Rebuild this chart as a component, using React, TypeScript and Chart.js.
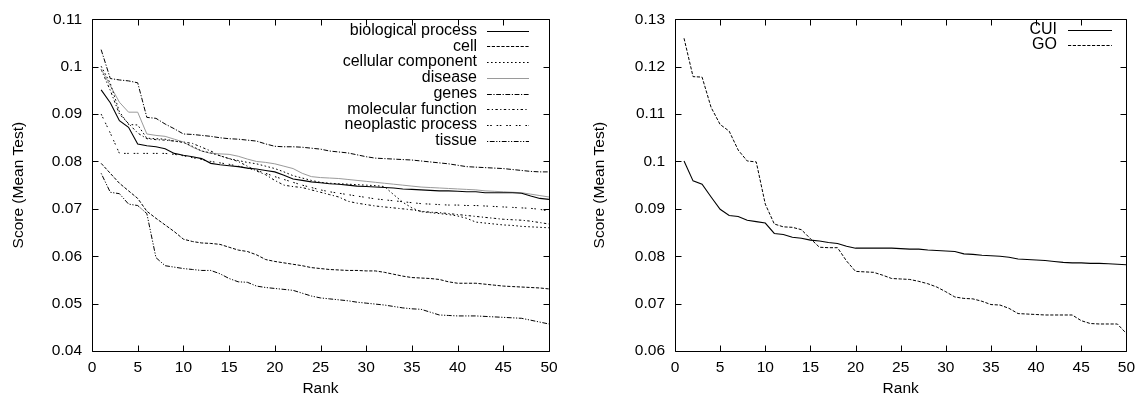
import React, { useEffect, useRef } from "react";
import { Chart, registerables } from "chart.js";

Chart.register(...registerables);

// ---------- data ----------
const RANKS = [1, 2, 3, 4, 5, 6, 7, 8, 9, 10, 11, 12, 13, 14, 15, 16, 17, 18, 19, 20, 21, 22, 23, 24, 25, 26, 27, 28, 29, 30, 31, 32, 33, 34, 35, 36, 37, 38, 39, 40, 41, 42, 43, 44, 45, 46, 47, 48, 49, 50];

const X_TICKS = [0, 5, 10, 15, 20, 25, 30, 35, 40, 45, 50];
const LEFT_Y_TICKS = [0.04, 0.05, 0.06, 0.07, 0.08, 0.09, 0.1, 0.11];
const RIGHT_Y_TICKS = [0.06, 0.07, 0.08, 0.09, 0.1, 0.11, 0.12, 0.13];

const LEFT_LABELS = ["biological process", "cell", "cellular component", "disease", "genes", "molecular function", "neoplastic process", "tissue"];
const RIGHT_LABELS = ["CUI", "GO"];

const biologicalProcess = [0.0951, 0.0924, 0.0886, 0.0872, 0.0837, 0.0833, 0.0831, 0.0827, 0.0817, 0.0813, 0.0810, 0.0806, 0.0796, 0.0793, 0.0791, 0.0789, 0.0786, 0.0784, 0.0781, 0.0778, 0.0771, 0.0763, 0.0760, 0.0757, 0.0755, 0.0753, 0.0752, 0.0750, 0.0748, 0.0747, 0.0746, 0.0745, 0.0744, 0.0742, 0.0741, 0.0740, 0.0739, 0.0738, 0.0738, 0.0737, 0.0736, 0.0736, 0.0734, 0.0734, 0.0734, 0.0734, 0.0733, 0.0727, 0.0722, 0.0720];
const cell = [0.0796, 0.0775, 0.0754, 0.0738, 0.0722, 0.0695, 0.0680, 0.0666, 0.0652, 0.0636, 0.0631, 0.0628, 0.0627, 0.0625, 0.0619, 0.0613, 0.0610, 0.0603, 0.0593, 0.0589, 0.0586, 0.0583, 0.0580, 0.0576, 0.0574, 0.0572, 0.0571, 0.0570, 0.0570, 0.0569, 0.0569, 0.0566, 0.0562, 0.0558, 0.0555, 0.0554, 0.0553, 0.0551, 0.0546, 0.0543, 0.0543, 0.0543, 0.0541, 0.0539, 0.0537, 0.0536, 0.0535, 0.0534, 0.0533, 0.0531];
const cellularComponent = [0.1001, 0.0965, 0.0905, 0.0878, 0.0877, 0.0849, 0.0848, 0.0847, 0.0843, 0.0840, 0.0832, 0.0822, 0.0818, 0.0812, 0.0806, 0.0802, 0.0798, 0.0795, 0.0790, 0.0785, 0.0778, 0.0770, 0.0765, 0.0760, 0.0756, 0.0754, 0.0753, 0.0752, 0.0751, 0.0750, 0.0749, 0.0747, 0.0730, 0.0714, 0.0702, 0.0694, 0.0692, 0.0690, 0.0688, 0.0685, 0.0680, 0.0672, 0.0670, 0.0668, 0.0666, 0.0665, 0.0663, 0.0662, 0.0661, 0.0660];
const disease = [0.0995, 0.0960, 0.0925, 0.0904, 0.0904, 0.0858, 0.0855, 0.0853, 0.0847, 0.0841, 0.0830, 0.0822, 0.0817, 0.0816, 0.0815, 0.0811, 0.0805, 0.0800, 0.0798, 0.0795, 0.0790, 0.0785, 0.0775, 0.0768, 0.0766, 0.0765, 0.0764, 0.0762, 0.0760, 0.0758, 0.0756, 0.0754, 0.0752, 0.0750, 0.0748, 0.0746, 0.0745, 0.0744, 0.0743, 0.0742, 0.0741, 0.0740, 0.0738, 0.0737, 0.0736, 0.0735, 0.0734, 0.0731, 0.0728, 0.0725];
const genes = [0.1036, 0.0975, 0.0972, 0.0970, 0.0966, 0.0893, 0.0891, 0.0879, 0.0869, 0.0858, 0.0857, 0.0855, 0.0853, 0.0850, 0.0848, 0.0847, 0.0845, 0.0843, 0.0837, 0.0832, 0.0831, 0.0831, 0.0830, 0.0828, 0.0826, 0.0822, 0.0820, 0.0818, 0.0814, 0.0810, 0.0807, 0.0806, 0.0805, 0.0804, 0.0803, 0.0801, 0.0799, 0.0797, 0.0795, 0.0792, 0.0789, 0.0788, 0.0787, 0.0786, 0.0785, 0.0783, 0.0781, 0.0779, 0.0778, 0.0778];
const molecularFunction = [0.0994, 0.0950, 0.0900, 0.0880, 0.0860, 0.0848, 0.0846, 0.0845, 0.0843, 0.0841, 0.0838, 0.0830, 0.0822, 0.0812, 0.0806, 0.0800, 0.0790, 0.0780, 0.0772, 0.0760, 0.0750, 0.0747, 0.0745, 0.0740, 0.0735, 0.0730, 0.0725, 0.0716, 0.0712, 0.0709, 0.0706, 0.0704, 0.0702, 0.0700, 0.0698, 0.0695, 0.0693, 0.0692, 0.0690, 0.0688, 0.0686, 0.0684, 0.0682, 0.0680, 0.0678, 0.0677, 0.0676, 0.0674, 0.0671, 0.0668];
const neoplasticProcess = [0.0900, 0.0860, 0.0817, 0.0817, 0.0817, 0.0817, 0.0817, 0.0817, 0.0815, 0.0812, 0.0808, 0.0804, 0.0800, 0.0797, 0.0794, 0.0790, 0.0786, 0.0781, 0.0775, 0.0768, 0.0762, 0.0756, 0.0750, 0.0745, 0.0740, 0.0736, 0.0733, 0.0730, 0.0727, 0.0724, 0.0721, 0.0719, 0.0717, 0.0715, 0.0713, 0.0711, 0.0710, 0.0709, 0.0708, 0.0708, 0.0707, 0.0707, 0.0706, 0.0705, 0.0704, 0.0703, 0.0702, 0.0701, 0.0699, 0.0695];
const tissue = [0.0775, 0.0735, 0.0732, 0.0710, 0.0707, 0.0690, 0.0597, 0.0580, 0.0577, 0.0574, 0.0572, 0.0570, 0.0570, 0.0563, 0.0553, 0.0546, 0.0545, 0.0537, 0.0534, 0.0532, 0.0530, 0.0528, 0.0522, 0.0516, 0.0512, 0.0510, 0.0508, 0.0506, 0.0503, 0.0501, 0.0499, 0.0497, 0.0494, 0.0491, 0.0489, 0.0488, 0.0482, 0.0476, 0.0475, 0.0474, 0.0474, 0.0474, 0.0473, 0.0472, 0.0471, 0.0470, 0.0469, 0.0465, 0.0461, 0.0457];

const cui = [0.1001, 0.0959, 0.0952, 0.0925, 0.0899, 0.0886, 0.0884, 0.0876, 0.0873, 0.0870, 0.0848, 0.0846, 0.0840, 0.0838, 0.0834, 0.0832, 0.0829, 0.0827, 0.0821, 0.0817, 0.0817, 0.0817, 0.0817, 0.0817, 0.0816, 0.0815, 0.0815, 0.0813, 0.0812, 0.0811, 0.0810, 0.0805, 0.0804, 0.0802, 0.0801, 0.0800, 0.0798, 0.0794, 0.0793, 0.0792, 0.0791, 0.0789, 0.0787, 0.0786, 0.0786, 0.0785, 0.0785, 0.0784, 0.0783, 0.0782];
const go = [0.1260, 0.1179, 0.1178, 0.1114, 0.1078, 0.1064, 0.1024, 0.1001, 0.0999, 0.0910, 0.0868, 0.0862, 0.0861, 0.0856, 0.0837, 0.0819, 0.0818, 0.0818, 0.0790, 0.0768, 0.0767, 0.0766, 0.0760, 0.0753, 0.0752, 0.0751, 0.0747, 0.0742, 0.0735, 0.0725, 0.0714, 0.0711, 0.0710, 0.0705, 0.0698, 0.0697, 0.0690, 0.0679, 0.0678, 0.0677, 0.0676, 0.0676, 0.0676, 0.0676, 0.0664, 0.0658, 0.0657, 0.0657, 0.0657, 0.0637];

// ---------- styles ----------
const FONT = '"Liberation Sans", Arial, Helvetica, sans-serif';
const TEXT_SIZE = 15.5;
const LEGEND_SIZE = 16;
const U = 0.8;
const STYLES: { color: string; dash: number[]; width: number }[] = [
  { color: "#000", dash: [], width: 1.1 },
  { color: "#000", dash: [4 * U, 2 * U], width: 1 },
  { color: "#000", dash: [2 * U, 3 * U], width: 1 },
  { color: "#9a9a9a", dash: [], width: 1 },
  { color: "#000", dash: [6 * U, 2 * U, 1.2, 2 * U], width: 1 },
  { color: "#000", dash: [3 * U, 3 * U, 1.2, 3 * U], width: 1 },
  { color: "#000", dash: [2 * U, 2 * U, 2 * U, 6 * U], width: 1 },
  { color: "#000", dash: [1.2, 2 * U, 6 * U, 2 * U, 1.2, 2 * U], width: 1 },
];

const gnuplotFrame = {
  id: "gnuplotFrame",
  afterDraw(chart: any) {
    const opts = chart.options.plugins.gnuplotFrame;
    const ctx = chart.ctx;
    const { left, right, top, bottom } = chart.chartArea;
    const xs = chart.scales.x;
    const ys = chart.scales.y;
    ctx.save();
    ctx.strokeStyle = "#000";
    ctx.lineWidth = 1;
    ctx.setLineDash([]);
    const L = Math.round(left) + 0.5, R = Math.round(right) + 0.5, T = Math.round(top) + 0.5, B = Math.round(bottom) + 0.5;
    ctx.beginPath();
    ctx.rect(L, T, R - L, B - T);
    ctx.stroke();
    const tl = 6;
    ctx.beginPath();
    xs.ticks.forEach((t: any) => {
      const px = Math.round(xs.getPixelForValue(t.value)) + 0.5;
      ctx.moveTo(px, B); ctx.lineTo(px, B - tl);
      ctx.moveTo(px, T); ctx.lineTo(px, T + tl);
    });
    ys.ticks.forEach((t: any) => {
      const py = Math.round(ys.getPixelForValue(t.value)) + 0.5;
      ctx.moveTo(L, py); ctx.lineTo(L + tl, py);
      ctx.moveTo(R, py); ctx.lineTo(R - tl, py);
    });
    ctx.stroke();

    // titles
    ctx.fillStyle = "#000";
    ctx.font = `${TEXT_SIZE}px ${FONT}`;
    ctx.textAlign = "center";
    ctx.textBaseline = "middle";
    ctx.fillText("Rank", (left + right) / 2, opts.xTitleY);
    ctx.save();
    ctx.translate(opts.yTitleX, (top + bottom) / 2);
    ctx.rotate(-Math.PI / 2);
    ctx.fillText("Score (Mean Test)", 0, 0);
    ctx.restore();

    // legend
    ctx.font = `${LEGEND_SIZE}px ${FONT}`;
    ctx.textAlign = "right";
    chart.data.datasets.forEach((ds: any, i: number) => {
      const y = opts.legendY0 + i * opts.legendDy;
      ctx.fillStyle = "#000";
      ctx.fillText(ds.label, opts.legendTextRight, y);
      ctx.strokeStyle = ds.borderColor;
      ctx.lineWidth = ds.borderWidth;
      ctx.setLineDash(ds.borderDash || []);
      ctx.beginPath();
      ctx.moveTo(opts.sampleX0, Math.round(y) + 0.5);
      ctx.lineTo(opts.sampleX1, Math.round(y) + 0.5);
      ctx.stroke();
    });
    ctx.restore();
  },
};

function makeConfig(labels: string[], series: number[][], yTicks: number[], frame: any, yWidth: number, padRight: number) {
  return {
    type: "line",
    data: {
      datasets: series.map((vals, i) => ({
        label: labels[i],
        data: vals.map((v, j) => ({ x: RANKS[j], y: v })),
        borderColor: STYLES[i].color,
        borderDash: STYLES[i].dash,
        borderWidth: STYLES[i].width,
        pointRadius: 0,
        tension: 0,
        fill: false,
      })),
    },
    options: {
      responsive: false,
      animation: false,
      events: [],
      layout: { padding: { top: 16, right: padRight, left: 0, bottom: 0 } },
      plugins: {
        legend: { display: false },
        tooltip: { enabled: false },
        title: { display: false },
        gnuplotFrame: frame,
      },
      scales: {
        x: {
          type: "linear",
          min: X_TICKS[0],
          max: X_TICKS[X_TICKS.length - 1],
          offset: false,
          grid: { display: false, drawTicks: false },
          border: { display: false },
          afterBuildTicks: (s: any) => { s.ticks = X_TICKS.map((v) => ({ value: v })); },
          afterFit: (s: any) => { s.height = 46; },
          ticks: {
            color: "#000",
            padding: 7,
            maxRotation: 0,
            autoSkip: false,
            font: { family: FONT, size: TEXT_SIZE },
            callback: (v: number) => String(v),
          },
        },
        y: {
          type: "linear",
          min: yTicks[0],
          max: yTicks[yTicks.length - 1],
          grid: { display: false, drawTicks: false },
          border: { display: false },
          afterBuildTicks: (s: any) => { s.ticks = yTicks.map((v) => ({ value: v })); },
          afterFit: (s: any) => { s.width = yWidth; },
          ticks: {
            color: "#000",
            padding: 10,
            autoSkip: false,
            font: { family: FONT, size: TEXT_SIZE },
            callback: (v: number) => String(Number(v.toFixed(2))),
          },
        },
      },
    },
    plugins: [gnuplotFrame],
  } as any;
}

function ChartCanvas({ config, width, height, left }: { config: any; width: number; height: number; left: number }) {
  const ref = useRef<HTMLCanvasElement | null>(null);
  useEffect(() => {
    if (!ref.current) return;
    const c = new Chart(ref.current, config);
    return () => c.destroy();
  }, [config]);
  return (
    <div style={{ position: "absolute", left, top: 0, width, height }}>
      <canvas ref={ref} width={width} height={height} style={{ display: "block", width, height }} />
    </div>
  );
}

const leftConfig = makeConfig(
  LEFT_LABELS,
  [biologicalProcess, cell, cellularComponent, disease, genes, molecularFunction, neoplasticProcess, tissue],
  LEFT_Y_TICKS,
  { xTitleY: 389, yTitleX: 18.5, legendY0: 30.5, legendDy: 15.75, legendTextRight: 477, sampleX0: 487, sampleX1: 529 },
  92,
  21
);

const rightConfig = makeConfig(
  RIGHT_LABELS,
  [cui, go],
  RIGHT_Y_TICKS,
  { xTitleY: 389, yTitleX: 30, legendY0: 30, legendDy: 15, legendTextRight: 487, sampleX0: 498, sampleX1: 542 },
  105,
  11
);

export default function App() {
  return (
    <div style={{ position: "absolute", left: 0, top: 0, width: 1142, height: 397, background: "#fff" }}>
      <ChartCanvas config={leftConfig} width={570} height={397} left={0} />
      <ChartCanvas config={rightConfig} width={572} height={397} left={570} />
    </div>
  );
}
